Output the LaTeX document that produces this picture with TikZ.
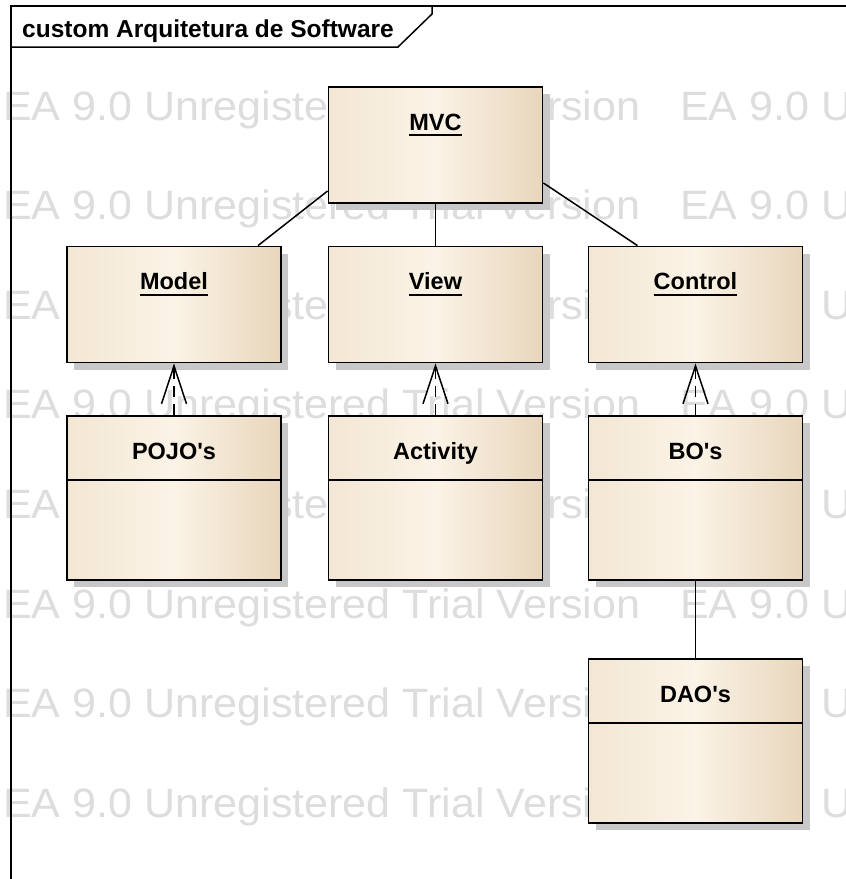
\documentclass[tikz,border=0pt]{standalone}
\usepackage{fontspec}
\setmainfont{Liberation Sans}
\newfontfamily\markfont[FakeStretch = 1.05]{Liberation Sans}
\usetikzlibrary{arrows.meta,shadows}

\definecolor{boxLeft}{HTML}{F3E7D4}
\definecolor{boxMid}{HTML}{FBF3E6}
\definecolor{boxRight}{HTML}{E8D6BC}
\definecolor{markGray}{HTML}{DDDDDD}
\definecolor{shadowGray}{HTML}{C8C8C8}

\newcommand{\ulname}[1]{\setbox0\hbox{#1}\rlap{\copy0}\raisebox{-6pt}{\rule{\wd0}{1.8pt}}}

\tikzset{
  box/.style = {draw, line width = 1.8pt, minimum width = 214pt, minimum height = 116pt,
    inner sep = 0pt, left color = boxLeft, right color = boxRight, middle color = boxMid,
    drop shadow = {shadow xshift = 7pt, shadow yshift = -7pt, fill = shadowGray, opacity = 1}},
  classbox/.style = {box, minimum height = 164pt},
  boxname/.style = {font = \fontsize{23.5}{27}\selectfont\bfseries, anchor = base, inner sep = 0pt},
  wmark/.style = {text = markGray, font = \fontsize{41}{45}\markfont, anchor = base west, inner sep = 0pt},
  link/.style = {line width = 1.5pt},
  depends/.style = {line width = 1.5pt, dash pattern = on 11pt off 7pt,
    -{Straight Barb[length = 38pt, width = 25pt]}}
}

\begin{document}
\begin{tikzpicture}[x = 1pt, y = -1pt]
  \useasboundingbox (0, 0) rectangle (846, 879);
  \fill[white] (0, 0) rectangle (846, 879);

  \begin{scope}
    \clip (0, 0) rectangle (846, 879);
    \foreach \k in {0,...,7} {
      \node[wmark] (wmA\k) at (3, 120 + 99.6*\k) {EA 9.0 Unregistered Trial Version};
      \node[wmark] (wmB\k) at (680, 120 + 99.6*\k) {EA 9.0 Unregistered Trial Version};
    }
  \end{scope}

  \draw[line width = 1.5pt] (11, 890) -- (11, 6) -- (860, 6);
  \filldraw[line width = 1.5pt, fill = white] (11, 6) -- (432, 6) -- (432, 14) -- (398, 47) -- (11, 47) -- cycle;
  \node[boxname, anchor = base west, font = \fontsize{24.5}{28}\selectfont\bfseries] (title) at (22, 37) {custom Arquitetura de Software};

  \node[box] (MVC) at (435.5, 145) {};
  \node[box] (Model) at (174, 304.5) {};
  \node[box] (View) at (435.5, 304.5) {};
  \node[box] (Control) at (695.5, 304.5) {};
  \node[classbox] (POJOs) at (174, 498) {};
  \node[classbox] (Activity) at (435.5, 498) {};
  \node[classbox] (BOs) at (695.5, 498) {};
  \node[classbox] (DAOs) at (695.5, 741) {};

  \node[boxname] (MVClbl) at ([yshift = -44pt]MVC.north) {\ulname{MVC}};
  \node[boxname] (Modellbl) at ([yshift = -44pt]Model.north) {\ulname{Model}};
  \node[boxname] (Viewlbl) at ([yshift = -44pt]View.north) {\ulname{View}};
  \node[boxname] (Controllbl) at ([yshift = -44pt]Control.north) {\ulname{Control}};
  \node[boxname] (POJOslbl) at ([yshift = -44pt]POJOs.north) {POJO\textquotesingle s};
  \node[boxname] (Activitylbl) at ([yshift = -44pt]Activity.north) {Activity};
  \node[boxname] (BOslbl) at ([yshift = -44pt]BOs.north) {BO\textquotesingle s};
  \node[boxname] (DAOslbl) at ([yshift = -44pt]DAOs.north) {DAO\textquotesingle s};

  \foreach \c in {POJOs, Activity, BOs, DAOs}
    \draw[line width = 1.8pt] ([yshift = -65pt]\c.north west) -- ([yshift = -65pt]\c.north east);

  \draw[link] ([xshift = 84pt]Model.north) -- ([yshift = -46pt]MVC.west);
  \draw[link] (MVC.south) -- (View.north);
  \draw[link] ([yshift = -38pt]MVC.east) -- ([xshift = -58pt]Control.north);
  \draw[link] (BOs.south) -- (DAOs.north);

  \foreach \a/\b in {POJOs/Model, Activity/View, BOs/Control}
    \draw[depends] (\a.north) -- (\b.south);
\end{tikzpicture}
\end{document}
